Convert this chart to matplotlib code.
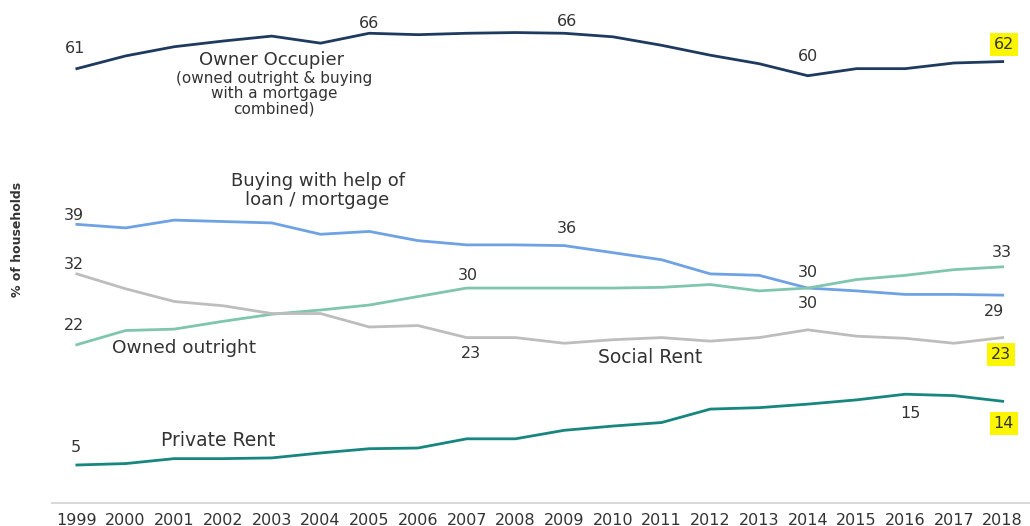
import matplotlib.pyplot as plt

plt.rcParams['font.family'] = ['DejaVu Sans']

years = list(range(1999, 2019))

# % of households by tenure
owner_occupier = [61, 62.8, 64.1, 64.9, 65.6, 64.6, 66, 65.8, 66.0, 66.1,
                  66, 65.5, 64.3, 62.9, 61.7, 60, 61.0, 61.0, 61.8, 62]
buying_mortgage = [39, 38.5, 39.6, 39.4, 39.2, 37.6, 38.0, 36.7, 36.1, 36.1,
                   36, 35.0, 34.0, 32.0, 31.8, 30, 29.6, 29.1, 29.1, 29]
owned_outright = [22, 24.0, 24.2, 25.3, 26.3, 26.9, 27.6, 28.8, 30, 30.0,
                  30.0, 30.0, 30.1, 30.5, 29.6, 30, 31.2, 31.8, 32.6, 33]
social_rent = [32, 29.9, 28.1, 27.5, 26.4, 26.4, 24.5, 24.7, 23, 23.0,
               22.2, 22.7, 23.0, 22.5, 23.0, 24.1, 23.2, 22.9, 22.2, 23]
private_rent = [5, 5.2, 5.9, 5.9, 6.0, 6.7, 7.3, 7.4, 8.7, 8.7,
                9.9, 10.5, 11.0, 12.9, 13.1, 13.6, 14.2, 15, 14.8, 14]

NAVY = '#1f3a5f'
BLUE = '#6ea2e4'
MINT = '#80c6ad'
GREY = '#bdbdbd'
TEAL = '#17867e'
TXT = '#333333'
HILITE = '#fbf500'

fig = plt.figure(figsize=(10.30, 5.26), dpi=100)
ax = fig.add_axes([52/1030, 23/526, 978/1030, 503/526])

lw = 2.0
ax.plot(years, owner_occupier, color=NAVY, lw=lw)
ax.plot(years, buying_mortgage, color=BLUE, lw=lw)
ax.plot(years, owned_outright, color=MINT, lw=lw)
ax.plot(years, social_rent, color=GREY, lw=lw)
ax.plot(years, private_rent, color=TEAL, lw=lw)

ax.set_xlim(1998.49, 2018.56)
ax.set_ylim(-0.37, 70.7)

for s in ['top', 'right', 'left']:
    ax.spines[s].set_visible(False)
ax.spines['bottom'].set_color('#d4d4d4')
ax.spines['bottom'].set_linewidth(1.3)
ax.set_yticks([])
ax.set_xticks(years)
ax.tick_params(axis='x', length=0, pad=7, labelsize=11.5, labelcolor=TXT)


def value_label(series, year, dx, dy, highlight=False):
    v = series[years.index(year)]
    kw = {}
    if highlight:
        kw['bbox'] = dict(boxstyle='square,pad=0.25', fc=HILITE, ec='none')
    ax.annotate(f'{v:g}', (year, v), xytext=(dx, dy), textcoords='offset pixels',
                ha='center', va='center', fontsize=11.5, color=TXT, **kw)


value_label(owner_occupier, 1999, -2, 20)
value_label(owner_occupier, 2005, 0, 10)
value_label(owner_occupier, 2009, 3, 12)
value_label(owner_occupier, 2014, 0, 19)
value_label(owner_occupier, 2018, 1, 17, highlight=True)

value_label(buying_mortgage, 1999, -3, 9)
value_label(buying_mortgage, 2009, 3, 17)
value_label(buying_mortgage, 2014, 0, -15)
value_label(buying_mortgage, 2018, -9, -16)

value_label(owned_outright, 1999, -3, 19)
value_label(owned_outright, 2007, 1, 13)
value_label(owned_outright, 2014, 0, 16)
value_label(owned_outright, 2018, -1, 14)

value_label(social_rent, 1999, -3, 9)
value_label(social_rent, 2007, 4, -16)
value_label(social_rent, 2018, -2, -17, highlight=True)

value_label(private_rent, 1999, -1, 17)
value_label(private_rent, 2016, 5, -19)
value_label(private_rent, 2018, 1, -22, highlight=True)

# series names
ax.text(2003, 62.2, 'Owner Occupier', ha='center', va='center', fontsize=13, color=TXT)
ax.text(2003.05, 60.6, '(owned outright & buying\nwith a mortgage\ncombined)',
        ha='center', va='top', fontsize=11, color=TXT, linespacing=0.98)
ax.text(2003.94, 43.8, 'Buying with help of\nloan / mortgage', ha='center', va='center',
        fontsize=13, color=TXT, linespacing=1.05)
ax.text(2001.2, 21.5, 'Owned outright', ha='center', va='center', fontsize=13.3, color=TXT)
ax.text(2010.76, 20.25, 'Social Rent', ha='center', va='center', fontsize=13.5, color=TXT)
ax.text(2001.91, 8.5, 'Private Rent', ha='center', va='center', fontsize=13.5, color=TXT)

fig.text(18/1030, 1 - 239/526, '% of households', rotation=90, ha='center', va='center',
         fontsize=9, fontweight='bold', color=TXT)

fig.savefig('out.png', dpi=100)
